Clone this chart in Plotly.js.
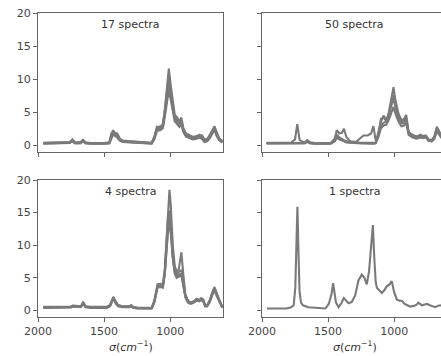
<!DOCTYPE html>
<html>
<head>
<meta charset="utf-8">
<script src="https://cdn.plot.ly/plotly-3.0.1.min.js"></script>
<style>
  html, body { margin: 0; padding: 0; overflow: hidden; background: #fff; }
  #chart { width: 448px; height: 356px; }
</style>
</head>
<body>
<div id="chart"></div>
<script>
// Wavenumber grids (cm^-1) and absorbance values for each group of spectra
const sigma17 = [1960,1800,1760,1740,1720,1680,1660,1640,1600,1500,1460,1445,1432,1415,1400,1380,1360,1320,1280,1250,1200,1140,1120,1100,1075,1055,1040,1025,1010,995,980,965,950,930,915,900,880,855,830,800,780,760,740,720,700,680,665,650,630,605];
const s17a = [0.35,0.35,0.45,0.9,0.4,0.4,0.85,0.4,0.3,0.3,0.4,1.6,2.3,1.7,1.8,1.0,0.7,0.6,0.55,0.4,0.35,0.35,1.2,2.8,2.7,3.2,5.5,8.5,11.6,9.0,6.3,4.6,4.3,3.6,4.2,2.6,1.8,1.5,1.3,1.3,1.6,1.4,0.8,0.9,1.5,2.3,2.9,2.0,1.1,0.6];
const s17b = [0.3,0.3,0.4,0.7,0.35,0.35,0.7,0.35,0.3,0.3,0.35,1.2,1.9,1.4,1.3,0.8,0.6,0.5,0.45,0.35,0.3,0.3,1.0,2.4,2.5,2.8,4.8,7.5,9.8,7.8,5.4,4.0,3.7,3.0,3.4,2.2,1.5,1.2,1.0,1.1,1.3,1.2,0.6,0.7,1.2,2.0,2.6,1.7,0.9,0.5];
const s17c = [0.25,0.25,0.35,0.6,0.3,0.3,0.6,0.3,0.25,0.25,0.3,1.0,1.6,1.5,1.1,0.7,0.5,0.45,0.4,0.3,0.25,0.25,0.9,2.2,2.3,2.6,4.3,6.6,8.4,6.9,4.9,3.6,3.3,2.8,3.1,2.0,1.3,1.1,0.9,1.0,1.2,1.0,0.5,0.6,1.1,1.8,2.4,1.5,0.8,0.4];
const s17d = [0.4,0.4,0.5,0.8,0.45,0.45,0.8,0.45,0.35,0.35,0.45,1.8,2.0,1.9,1.6,0.9,0.75,0.65,0.6,0.45,0.4,0.4,1.3,2.6,2.9,3.0,5.2,8.0,10.6,8.4,5.8,4.3,4.0,3.3,3.8,2.4,1.7,1.4,1.2,1.4,1.5,1.5,0.9,1.0,1.4,2.1,2.7,1.9,1.0,0.6];

const sigma50 = [1965,1780,1750,1733,1715,1680,1657,1635,1600,1480,1450,1434,1415,1395,1380,1360,1330,1290,1250,1232,1200,1175,1157,1140,1120,1100,1080,1060,1040,1020,1005,990,967,945,925,909,890,860,830,800,780,760,740,714,695,677,660,640,615,600];
const s50a = [0.35,0.35,0.35,0.4,0.35,0.4,0.8,0.4,0.3,0.3,0.9,1.6,1.2,0.9,0.8,0.6,0.5,0.4,0.4,0.4,0.35,0.35,0.35,0.4,1.5,3.0,3.4,3.6,5.0,7.0,8.8,6.8,4.8,3.8,4.0,4.6,2.0,1.6,1.3,1.6,1.4,1.5,0.9,0.8,1.4,2.8,2.2,1.4,1.0,0.8];
const s50b = [0.3,0.3,0.3,0.35,0.3,0.35,0.6,0.35,0.3,0.3,0.7,1.3,1.0,0.8,0.7,0.5,0.45,0.35,0.35,0.35,0.3,0.3,0.3,0.35,1.8,3.6,4.5,3.8,4.6,6.0,7.2,5.8,4.2,3.3,3.4,3.9,1.8,1.4,1.2,1.4,1.3,1.3,0.8,0.7,1.2,2.4,1.9,1.2,0.9,0.7];
const s50c = [0.3,0.3,0.3,0.3,0.3,0.3,0.5,0.3,0.25,0.25,0.6,1.1,0.9,0.7,0.6,0.45,0.4,0.3,0.3,0.3,0.25,0.25,0.25,0.3,1.2,2.6,3.0,3.1,3.9,5.0,5.8,4.8,3.6,2.9,3.0,3.4,1.6,1.2,1.0,1.2,1.1,1.2,0.7,0.6,1.0,2.1,1.7,1.1,0.8,0.6];
const s50d = [0.4,0.4,0.9,3.2,0.8,0.45,0.7,0.45,0.35,0.35,1.0,2.3,1.8,1.9,2.5,1.2,0.6,0.5,1.2,1.5,1.5,1.8,2.9,0.8,1.4,4.0,4.2,3.7,4.8,6.4,7.6,6.0,4.4,3.6,3.8,4.2,1.9,1.5,1.3,1.5,1.3,1.4,0.8,0.8,1.3,2.5,2.0,1.3,1.0,0.7];

const sigma4 = [1960,1780,1750,1735,1700,1675,1658,1640,1600,1480,1455,1440,1430,1415,1395,1360,1310,1295,1280,1250,1200,1140,1120,1095,1075,1055,1040,1025,1015,1005,995,980,965,950,935,915,900,885,865,845,820,800,780,765,750,735,720,700,680,664,645,626,605];
const s4a = [0.5,0.5,0.55,0.7,0.6,0.6,1.3,0.6,0.5,0.5,0.8,1.7,2.1,1.4,0.8,0.6,0.6,0.75,0.5,0.4,0.35,0.35,1.5,4.0,4.0,3.9,6.5,11.5,15.5,18.5,16.0,10.0,6.8,6.0,6.3,8.9,5.5,2.5,1.5,1.2,1.4,1.8,1.6,1.9,1.7,0.8,0.8,1.6,2.8,3.6,2.5,1.5,0.5];
const s4b = [0.45,0.45,0.5,0.65,0.55,0.55,1.1,0.55,0.45,0.45,0.7,1.5,1.9,1.3,0.7,0.55,0.55,0.7,0.45,0.35,0.3,0.3,1.3,3.7,3.8,3.6,6.0,10.5,14.8,15.3,13.5,8.8,6.2,5.6,5.8,6.2,4.5,2.2,1.3,1.1,1.3,1.6,1.5,1.7,1.5,0.7,0.7,1.4,2.6,3.3,2.3,1.3,0.45];
const s4c = [0.4,0.4,0.45,0.6,0.5,0.5,1.0,0.5,0.4,0.4,0.65,1.4,1.8,1.2,0.65,0.5,0.5,0.65,0.4,0.3,0.3,0.3,1.2,3.5,3.6,3.5,5.6,9.8,13.2,14.2,12.4,8.2,5.8,5.3,5.5,5.6,4.0,2.0,1.2,1.0,1.2,1.5,1.4,1.6,1.4,0.6,0.6,1.3,2.4,3.1,2.1,1.2,0.4];
const s4d = [0.55,0.55,0.6,0.75,0.65,0.65,1.2,0.65,0.55,0.55,0.8,1.6,2.0,1.5,0.85,0.65,0.65,0.8,0.55,0.45,0.4,0.4,1.4,3.9,4.1,3.8,5.8,9.5,12.4,13.0,11.8,8.0,5.6,5.0,5.2,5.4,3.8,2.3,1.4,1.2,1.4,1.7,1.6,1.8,1.6,0.75,0.75,1.5,2.7,3.4,2.4,1.4,0.5];

const sigma1 = [1962,1900,1813,1780,1760,1748,1740,1732,1724,1716,1705,1690,1650,1600,1520,1495,1475,1462,1450,1440,1420,1400,1381,1360,1345,1320,1295,1270,1245,1225,1207,1190,1175,1161,1150,1140,1131,1110,1093,1075,1056,1035,1018,1000,980,960,942,920,904,880,850,830,816,800,790,770,752,730,710,689,670,652,630,600];
const s1a = [0.3,0.3,0.3,0.5,0.8,3.5,9.0,15.9,9.0,3.0,1.2,0.8,0.5,0.4,0.3,1.0,2.4,4.2,2.8,1.2,0.5,1.1,1.9,1.4,1.1,1.3,2.3,4.6,5.5,5.0,4.0,6.0,10.5,13.1,8.0,4.5,3.5,3.1,2.7,3.1,3.7,4.0,4.5,2.8,1.7,1.5,1.5,1.0,0.8,0.6,0.7,0.9,1.2,0.9,0.8,0.9,1.0,0.8,0.6,0.5,0.7,0.8,0.7,0.6];

const panelTitles = ['17 spectra', '50 spectra', '4 spectra', '1 spectra'];
const xTickVals = [2000, 1500, 1000, 500];
const yTickVals = [0, 5, 10, 15, 20];
const xTitle = '<i>σ</i>(<i>cm</i><sup>−1</sup>)';

// Figure geometry in pixels
const W = 448, H = 356;
const colL = [38, 223], colR = [262, 447];
const rowTop = [13, 152], rowBot = [180, 317];
const dx = p => [p[0] / W, p[1] / W];
const dy = p => [1 - p[1] / H, 1 - p[0] / H];

const lineColor = '#7a7a7a';
const groups = [
  { ax: ['x', 'y'], sig: sigma17, ys: [s17c, s17b, s17d, s17a] },
  { ax: ['x2', 'y2'], sig: sigma50, ys: [s50c, s50b, s50a, s50d] },
  { ax: ['x3', 'y3'], sig: sigma4, ys: [s4d, s4c, s4b, s4a] },
  { ax: ['x4', 'y4'], sig: sigma1, ys: [s1a] }
];

const traces = [];
groups.forEach(g => {
  g.ys.forEach(v => {
    traces.push({
      x: g.sig, y: v, xaxis: g.ax[0], yaxis: g.ax[1],
      type: 'scatter', mode: 'lines',
      line: { color: lineColor, width: 2.1 },
      hoverinfo: 'skip'
    });
  });
});

function xAxis(domain, anchor, labels) {
  return {
    domain: dx(domain), anchor: anchor, range: [2000, 600],
    tickvals: xTickVals, showticklabels: labels,
    showline: true, mirror: true, linecolor: '#666', linewidth: 1,
    ticks: 'outside', ticklen: 4, tickwidth: 1, tickcolor: '#666',
    showgrid: false, zeroline: false,
    tickfont: { family: 'DejaVu Sans', size: 11, color: '#444' }
  };
}
function yAxis(domain, anchor, labels) {
  return {
    domain: dy(domain), anchor: anchor, range: [-1, 20],
    tickvals: yTickVals, showticklabels: labels,
    showline: true, mirror: true, linecolor: '#666', linewidth: 1,
    ticks: 'outside', ticklen: 4, tickwidth: 1, tickcolor: '#666',
    showgrid: false, zeroline: false,
    tickfont: { family: 'DejaVu Sans', size: 11, color: '#444' }
  };
}

const titleFont = { family: 'DejaVu Sans', size: 11, color: '#333' };
const annotations = [];
['', '2', '3', '4'].forEach((s, i) => {
  annotations.push({
    text: panelTitles[i], xref: 'x' + s + ' domain', yref: 'y' + s + ' domain',
    x: 0.5, y: 0.914, xanchor: 'center', yanchor: 'middle',
    showarrow: false, font: titleFont
  });
});
['3', '4'].forEach(s => {
  annotations.push({
    text: xTitle, xref: 'x' + s + ' domain', yref: 'y' + s + ' domain',
    x: 0.5, y: -0.215, xanchor: 'center', yanchor: 'middle',
    showarrow: false, font: titleFont
  });
});

const layout = {
  width: W, height: H,
  margin: { l: 0, r: 0, t: 0, b: 0 },
  paper_bgcolor: '#fff', plot_bgcolor: '#fff',
  showlegend: false,
  font: { family: 'DejaVu Sans', size: 11, color: '#444' },
  xaxis: xAxis(colL, 'y', false),
  yaxis: yAxis(rowTop, 'x', true),
  xaxis2: xAxis(colR, 'y2', false),
  yaxis2: yAxis(rowTop, 'x2', false),
  xaxis3: xAxis(colL, 'y3', true),
  yaxis3: yAxis(rowBot, 'x3', true),
  xaxis4: xAxis(colR, 'y4', true),
  yaxis4: yAxis(rowBot, 'x4', false),
  annotations: annotations
};

Plotly.newPlot('chart', traces, layout, { displayModeBar: false, staticPlot: true });
</script>
</body>
</html>
